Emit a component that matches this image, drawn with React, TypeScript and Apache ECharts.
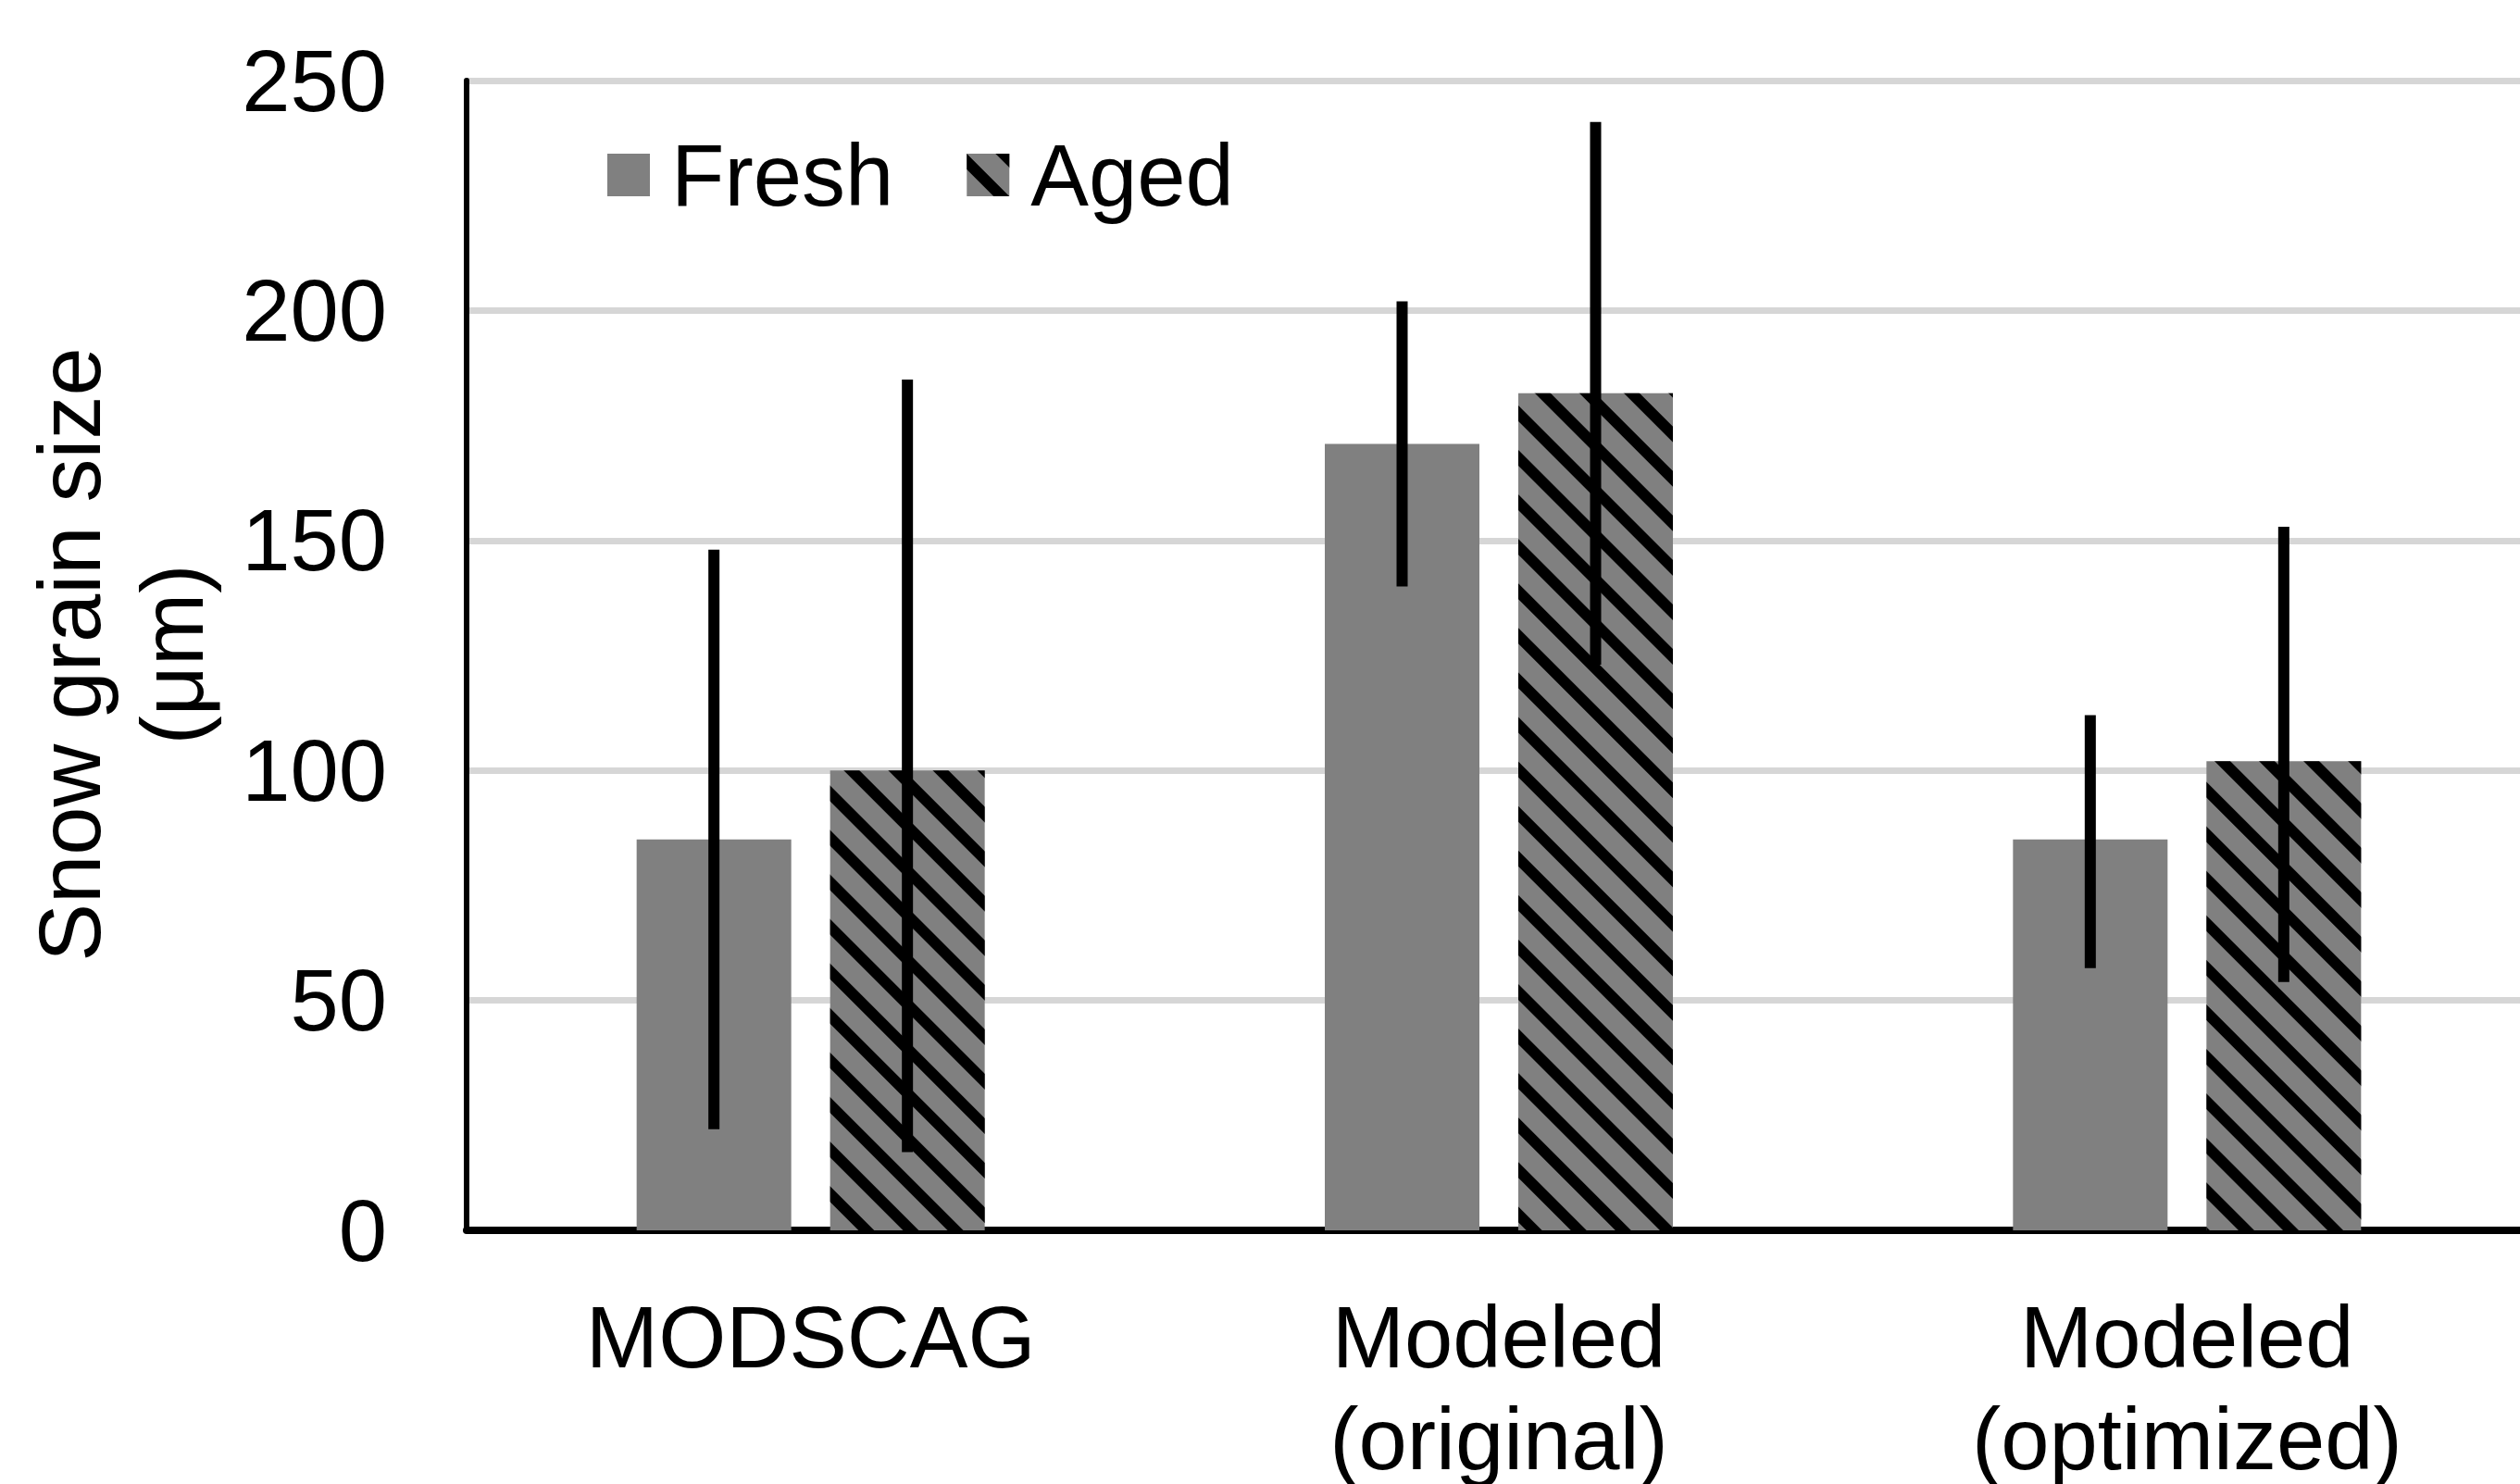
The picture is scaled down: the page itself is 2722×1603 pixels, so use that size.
import React, { useEffect, useRef } from "react";
import * as echarts from "echarts";

const categories = ["MODSCAG", "Modeled\n(original)", "Modeled\n(optimized)"];
const freshValues = [85, 171, 85];
const agedValues = [100, 182, 102];
const freshLow = [22, 140, 57];
const freshHigh = [148, 202, 112];
const agedLow = [17, 123, 54];
const agedHigh = [185, 241, 153];
const yTicks = [0, 50, 100, 150, 200, 250];

const FONT = "'Liberation Sans', Arial, sans-serif";
const BAR_W = 167;
const BAR_GAP = 42;
const OFF = (BAR_W + BAR_GAP) / 2;

export default function App() {
  const ref = useRef<HTMLDivElement>(null);
  useEffect(() => {
    if (!ref.current) return;
    const chart = echarts.init(ref.current, null, { renderer: "svg" });
    const errRender = (offset: number) => (params: any, api: any) => {
      const x = api.value(0);
      const lo = api.coord([x, api.value(1)]);
      const hi = api.coord([x, api.value(2)]);
      return {
        type: "line",
        shape: { x1: lo[0] + offset, y1: lo[1], x2: hi[0] + offset, y2: hi[1] },
        style: { stroke: "#000", lineWidth: 12, lineCap: "butt" },
      };
    };
    chart.setOption({
      animation: false,
      backgroundColor: "#fff",
      textStyle: { fontFamily: FONT },
      grid: {
        left: 504,
        top: 87,
        width: 2230,
        height: 1242,
        containLabel: false,
        outerBoundsMode: "none",
      },
      legend: {
        data: ["Fresh", "Aged"],
        left: 656,
        top: 142,
        padding: 0,
        itemWidth: 46,
        itemHeight: 46,
        itemGap: 79,
        icon: "rect",
        textStyle: { fontSize: 94, color: "#000", fontFamily: FONT, padding: [0, 0, 0, 18] },
      },
      xAxis: {
        type: "category",
        data: categories,
        axisTick: { show: false },
        axisLine: { lineStyle: { color: "#000", width: 8 } },
        axisLabel: { fontSize: 94, color: "#000", margin: 60, lineHeight: 110, fontFamily: FONT },
      },
      yAxis: {
        type: "value",
        min: yTicks[0],
        max: yTicks[yTicks.length - 1],
        interval: 50,
        axisLine: { show: true, lineStyle: { color: "#000", width: 6 } },
        axisTick: { show: false },
        axisLabel: { fontSize: 94, color: "#000", margin: 86, fontFamily: FONT },
        splitLine: { lineStyle: { color: "#d6d6d6", width: 7 } },
      },
      graphic: [
        {
          type: "text",
          x: 131,
          y: 707,
          rotation: Math.PI / 2,
          style: {
            text: "Snow grain size\n(μm)",
            fontSize: 94,
            lineHeight: 111,
            fontFamily: FONT,
            fill: "#000",
            align: "center",
            verticalAlign: "middle",
          },
        },
      ],
      series: [
        {
          name: "Fresh",
          type: "bar",
          data: freshValues,
          barWidth: BAR_W,
          barGap: (BAR_GAP / BAR_W) * 100 + "%",
          itemStyle: { color: "#808080" },
        },
        {
          name: "Aged",
          type: "bar",
          data: agedValues,
          barWidth: BAR_W,
          itemStyle: {
            color: "#808080",
            decal: {
              symbol: "rect",
              symbolSize: 1,
              color: "#000",
              dashArrayX: [1, 0],
              dashArrayY: [12, 22],
              rotation: Math.PI / 4,
            },
          },
        },
        {
          name: "FreshErr",
          type: "custom",
          z: 5,
          renderItem: errRender(-OFF),
          encode: { x: 0, y: [1, 2] },
          data: categories.map((_, i) => [i, freshLow[i], freshHigh[i]]),
        },
        {
          name: "AgedErr",
          type: "custom",
          z: 5,
          renderItem: errRender(OFF),
          encode: { x: 0, y: [1, 2] },
          data: categories.map((_, i) => [i, agedLow[i], agedHigh[i]]),
        },
      ],
    });
    return () => chart.dispose();
  }, []);
  return (
    <div
      ref={ref}
      style={{ position: "absolute", left: 0, top: 0, width: 2722, height: 1603 }}
    />
  );
}
